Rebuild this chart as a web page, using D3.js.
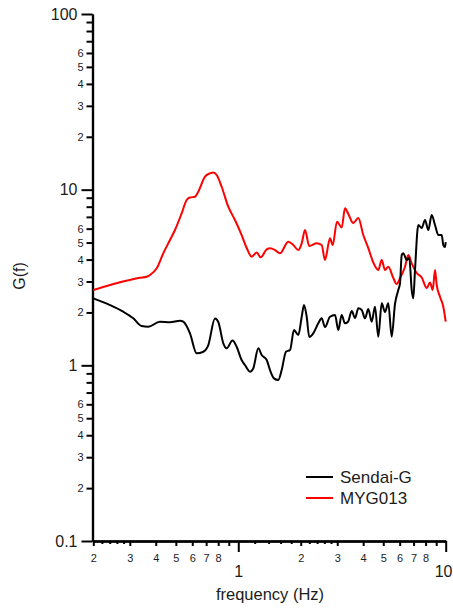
<!DOCTYPE html>
<html>
<head>
<meta charset="utf-8">
<script src="https://cdn.jsdelivr.net/npm/d3@7"></script>
<style>
  html, body { margin: 0; padding: 0; background: #fff; }
  svg { display: block; font-family: "Liberation Sans", Arial, sans-serif; }
</style>
</head>
<body>
<svg id="chart" width="453" height="612"></svg>
<script>
// Site amplification G(f) for two stations
const freqSendai = [0.2, 0.2406, 0.279, 0.3116, 0.342, 0.368, 0.419, 0.4686, 0.5234, 0.543, 0.585, 0.630, 0.678, 0.717, 0.772, 0.801, 0.847, 0.879, 0.938, 0.982, 1.038, 1.077, 1.139, 1.181, 1.249, 1.297, 1.371, 1.422, 1.486, 1.559, 1.619, 1.698, 1.776, 1.856, 1.947, 2.022, 2.074, 2.137, 2.199, 2.299, 2.431, 2.524, 2.618, 2.768, 2.927, 3.035, 3.152, 3.269, 3.381, 3.523, 3.654, 3.790, 3.936, 4.083, 4.235, 4.398, 4.562, 4.732, 4.914, 5.097, 5.287, 5.491, 5.695, 5.909, 6.022, 6.137, 6.247, 6.486, 6.676, 6.857, 6.980, 7.112, 7.379, 7.663, 7.948, 8.245, 8.562, 8.881, 9.211, 9.566, 9.737, 9.922, 10];
const gSendai = [2.406, 2.204, 2.019, 1.852, 1.674, 1.659, 1.771, 1.757, 1.794, 1.771, 1.521, 1.170, 1.195, 1.305, 1.847, 1.764, 1.334, 1.250, 1.384, 1.276, 1.072, 1.004, 0.920, 0.961, 1.250, 1.145, 1.072, 0.940, 0.843, 0.825, 0.940, 1.195, 1.222, 1.589, 1.488, 1.891, 2.204, 1.891, 1.449, 1.521, 1.734, 1.852, 1.652, 1.891, 1.934, 1.589, 1.934, 1.734, 1.771, 2.038, 1.859, 2.111, 2.064, 1.852, 2.092, 1.771, 2.156, 1.455, 2.254, 2.012, 2.254, 1.455, 2.234, 2.684, 2.930, 4.246, 4.342, 3.976, 4.083, 2.684, 2.406, 3.487, 6.292, 6.048, 6.718, 5.892, 7.173, 6.292, 5.517, 5.517, 4.840, 4.715, 5.033];

const freqMyg = [0.2, 0.2406, 0.2842, 0.3357, 0.3617, 0.3752, 0.4043, 0.4349, 0.4686, 0.4952, 0.5334, 0.5638, 0.585, 0.6182, 0.6414, 0.691, 0.7305, 0.7577, 0.7866, 0.8317, 0.8948, 0.964, 1.038, 1.098, 1.160, 1.227, 1.282, 1.371, 1.422, 1.503, 1.589, 1.742, 1.842, 1.947, 2.022, 2.097, 2.199, 2.388, 2.524, 2.618, 2.768, 2.853, 2.991, 3.152, 3.269, 3.393, 3.585, 3.790, 4.006, 4.235, 4.476, 4.732, 4.914, 5.097, 5.287, 5.590, 5.804, 6.022, 6.366, 6.603, 6.857, 7.246, 7.663, 8.099, 8.404, 8.659, 8.881, 9.049, 9.387, 9.737, 10];
const gMyg = [2.684, 2.866, 3.020, 3.153, 3.195, 3.267, 3.566, 4.342, 5.168, 5.892, 7.333, 8.730, 9.021, 9.116, 9.734, 11.85, 12.39, 12.52, 12.12, 10.39, 7.997, 6.718, 5.517, 4.653, 4.153, 4.387, 4.120, 4.575, 4.636, 4.533, 4.342, 5.054, 4.840, 4.533, 4.949, 5.892, 4.777, 4.949, 4.840, 3.976, 5.284, 4.840, 6.570, 6.088, 7.831, 7.265, 6.459, 6.896, 5.517, 4.653, 3.848, 3.487, 3.976, 3.487, 3.642, 3.141, 2.903, 3.141, 3.642, 4.246, 3.808, 3.354, 3.161, 2.754, 2.961, 2.684, 3.487, 2.866, 2.458, 2.156, 1.771];

const seriesNames = ["Sendai-G", "MYG013"];
const seriesColors = ["#000000", "#ff0000"];

// Axis ticks
const yMajorTicks = [0.1, 1, 10, 100];
const yMinorTicks = [0.2, 0.3, 0.4, 0.5, 0.6, 0.7, 0.8, 0.9, 2, 3, 4, 5, 6, 7, 8, 9, 20, 30, 40, 50, 60, 70, 80, 90];
const yMinorLabels = ["2", "3", "4", "5", "6", "", "", "", "2", "3", "4", "5", "6", "", "", "", "2", "3", "4", "5", "6", "", "", ""];
const xMajorTicks = [1, 10];
const xMajorLabels = ["1", "10"];
const xMinorTicks = [0.2, 0.3, 0.4, 0.5, 0.6, 0.7, 0.8, 0.9, 2, 3, 4, 5, 6, 7, 8, 9];
const xMinorLabels = ["2", "3", "4", "5", "6", "7", "8", "", "2", "3", "4", "5", "6", "7", "8", ""];
const xSmallTicks = [0.22, 0.24, 0.26, 0.28, 1.2, 1.4, 1.6, 1.8, 2.2, 2.4, 2.6, 2.8];

const svg = d3.select("#chart");

const x = d3.scaleLog().domain([0.2, 10]).range([93.3, 445.7]);
const y = d3.scaleLog().domain([0.1, 100]).range([541, 14]);

const inkColor = "#1c1c1c";

function styleAxis(g, width) {
  g.selectAll(".domain").attr("stroke", "#000").attr("stroke-width", width);
  g.selectAll(".tick line").attr("stroke", "#000").attr("stroke-width", 2);
  g.selectAll(".tick text").attr("fill", inkColor);
}

// Y axis
const yAxisG = svg.append("g").attr("transform", "translate(92.5,0)");
yAxisG.append("g")
  .call(d3.axisLeft(y).tickValues(yMinorTicks).tickSize(6).tickSizeOuter(0).tickPadding(3)
    .tickFormat((d, i) => yMinorLabels[i]))
  .call(g => styleAxis(g, 2.2))
  .call(g => g.selectAll(".tick text").attr("font-size", 11).attr("font-family", null));
yAxisG.append("g")
  .call(d3.axisLeft(y).tickValues(yMajorTicks).tickSize(11).tickSizeOuter(0).tickPadding(4)
    .tickFormat(d => d3.format("~g")(d)))
  .call(g => styleAxis(g, 2.2))
  .call(g => g.selectAll(".tick text").attr("font-size", 16).attr("font-family", null));

// X axis
const xAxisG = svg.append("g").attr("transform", "translate(0,541)");
xAxisG.append("g")
  .call(d3.axisBottom(x).tickValues(xSmallTicks).tickSize(3).tickSizeOuter(0).tickFormat(""))
  .call(g => styleAxis(g, 2.2));
xAxisG.append("g")
  .call(d3.axisBottom(x).tickValues(xMinorTicks).tickSize(5).tickSizeOuter(0).tickPadding(8)
    .tickFormat((d, i) => xMinorLabels[i]))
  .call(g => styleAxis(g, 2.2))
  .call(g => g.selectAll(".tick text").attr("font-size", 11).attr("font-family", null));
xAxisG.append("g")
  .call(d3.axisBottom(x).tickValues(xMajorTicks).tickSize(11).tickSizeOuter(0).tickPadding(14)
    .tickFormat((d, i) => xMajorLabels[i]))
  .call(g => styleAxis(g, 2.2))
  .call(g => g.selectAll(".tick text").attr("font-size", 16).attr("font-family", null))
  // keep the last label inside the page edge
  .call(g => g.selectAll(".tick text").filter(d => d === 10)
    .attr("text-anchor", "end").attr("x", 452 - x(10)));

// Axis titles
svg.append("text")
  .attr("x", 270).attr("y", 600)
  .attr("text-anchor", "middle")
  .attr("font-size", 16.5)
  .attr("fill", inkColor)
  .text("frequency (Hz)");

svg.append("text")
  .attr("transform", "translate(25,276) rotate(-90)")
  .attr("text-anchor", "middle")
  .attr("font-size", 16)
  .attr("fill", inkColor)
  .text("G(f)");

// Curves
const line = d3.line()
  .x(d => x(d[0]))
  .y(d => y(d[1]))
  .curve(d3.curveMonotoneX);

const series = [
  d3.zip(freqSendai, gSendai),
  d3.zip(freqMyg, gMyg)
];

// red drawn first, black on top
[1, 0].forEach(i => {
  svg.append("path")
    .datum(series[i])
    .attr("fill", "none")
    .attr("stroke", seriesColors[i])
    .attr("stroke-width", 2)
    .attr("stroke-linejoin", "round")
    .attr("d", line);
});

// Legend
const legend = svg.append("g").attr("transform", "translate(306,477)");
seriesNames.forEach((name, i) => {
  const row = legend.append("g").attr("transform", `translate(0,${i * 21})`);
  row.append("line")
    .attr("x1", 0).attr("x2", 27)
    .attr("y1", 0).attr("y2", 0)
    .attr("stroke", seriesColors[i])
    .attr("stroke-width", 2);
  row.append("text")
    .attr("x", 34).attr("y", 6.3)
    .attr("font-size", 17)
    .attr("fill", inkColor)
    .text(name);
});
</script>
</body>
</html>
